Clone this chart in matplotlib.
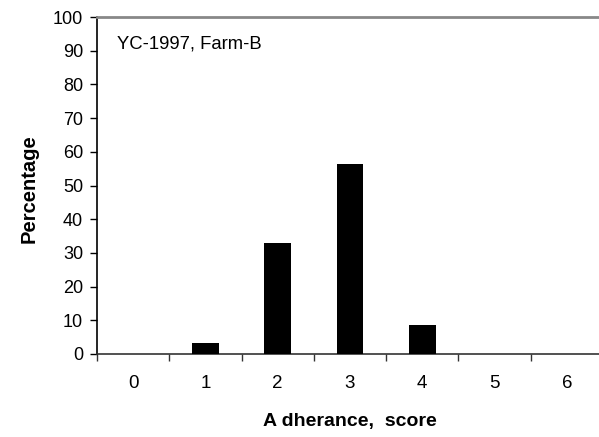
import matplotlib
matplotlib.use("Agg")
import matplotlib.pyplot as plt
import numpy as np

plt.rcParams['font.family'] = ['Liberation Sans', 'DejaVu Sans']

# adherance score distribution, YC-1997 Farm-B
scores = ['0', '1', '2', '3', '4', '5', '6']
percentage = [0, 3.3, 32.8, 56.3, 8.7, 0, 0]
yticks = list(range(0, 101, 10))

fig = plt.figure(figsize=(5.99, 4.37), dpi=100)
ax = fig.add_axes([97/599, 1 - 354/437, 506/599, 337/437])

x = np.arange(len(scores))
ax.bar(x, percentage, width=0.37, color='black', zorder=3)

ax.set_xlim(-0.5, len(scores) - 0.5)
ax.set_ylim(0, 100)

# ticks at category boundaries, labels at centres
ax.set_xticks(np.arange(-0.5, len(scores), 1.0))
ax.set_xticklabels([])
ax.set_xticks(x, minor=True)
ax.set_xticklabels(scores, minor=True, fontsize=13.5)
ax.tick_params(axis='x', which='major', direction='out', length=5, width=1, color='#333333')
ax.tick_params(axis='x', which='minor', length=0, pad=15)

ax.set_yticks(yticks)
ax.set_yticklabels([str(v) for v in yticks], fontsize=13)
ax.tick_params(axis='y', direction='out', length=5, width=1, pad=5)

ax.spines['left'].set_color('black')
ax.spines['left'].set_linewidth(1.2)
ax.spines['bottom'].set_color('#333333')
ax.spines['bottom'].set_linewidth(1.2)
ax.spines['top'].set_color('#888888')
ax.spines['top'].set_linewidth(2)
ax.spines['right'].set_visible(False)

ax.text(0.04, 0.92, 'YC-1997, Farm-B', transform=ax.transAxes, fontsize=13.3,
        va='center', ha='left')

ax.set_ylabel('Percentage', fontsize=14.5, fontweight='bold')
ax.yaxis.set_label_coords(-(97 - 39) / 506, 0.49)
ax.set_xlabel('A dherance,  score', fontsize=14, fontweight='bold')
ax.xaxis.set_label_coords((350 - 97) / 506, -(413 - 354) / 337)

fig.savefig('out.png', dpi=100)
